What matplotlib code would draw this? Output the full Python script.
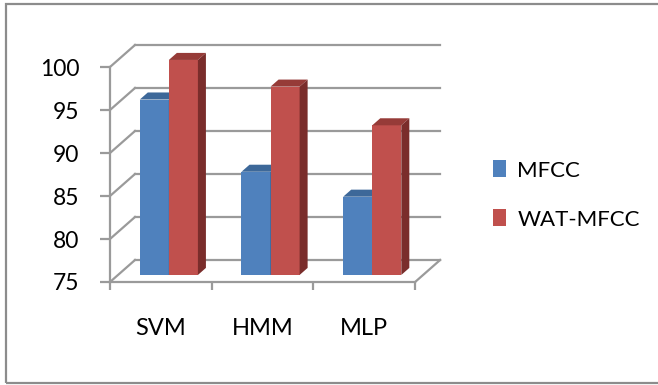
import numpy as np
import matplotlib.pyplot as plt
from matplotlib.patches import Polygon, Rectangle

plt.rcParams['font.family'] = ['Lato', 'DejaVu Sans']

categories = ['SVM', 'HMM', 'MLP']
series_names = ['MFCC', 'WAT-MFCC']
mfcc = [95.4, 87.0, 84.1]
wat_mfcc = [100.0, 96.9, 92.4]
y_ticks = [75, 80, 85, 90, 95, 100]

front_colors = ['#4F81BD', '#C0504D']
top_colors = ['#3D6899', '#963B38']
side_colors = ['#2F5482', '#7A2D2B']
grid_color = '#9A9A9A'

# oblique depth offset (x in category units, y in value units)
DX, DY = 0.246, 2.56
F0, F1 = 0.32, 0.64      # bar depth span as fraction of the floor depth
W = 2 / 7                 # bar width with 150% gap
BASE = 75

fig = plt.figure(figsize=(6.58, 3.85), dpi=100)
ax = fig.add_axes([110 / 658, 103 / 385, 3.3 * 101.7 / 658, 28 * 8.6 / 385])
ax.set_xlim(0, 3.3)
ax.set_ylim(BASE, BASE + 28)

# outer chart frame (right side runs off the image)
fig.patches.append(Rectangle((6 / 658, 2 / 385), 1.1, 379 / 385, transform=fig.transFigure,
                             fill=False, ec='#8C8C8C', lw=1.6))

# back wall gridlines and side-wall diagonals
for v in y_ticks:
    ax.plot([DX, 3 + DX], [v + DY, v + DY], color=grid_color, lw=1.6, zorder=1, clip_on=False)
    ax.plot([0, DX], [v, v + DY], color=grid_color, lw=1.6, zorder=1, clip_on=False)
ax.plot([3, 3 + DX], [BASE, BASE + DY], color=grid_color, lw=1.6, zorder=1, clip_on=False)

x = np.arange(len(categories))
dd = (F1 - F0)
for j, vals in enumerate([mfcc, wat_mfcc]):
    lefts = x + 0.5 - W + j * W + F0 * DX
    bottom = BASE + F0 * DY
    heights = np.array(vals) - BASE
    bars = ax.bar(lefts, heights, width=W, bottom=bottom, align='edge',
                  color=front_colors[j], zorder=3 + j, label=series_names[j])
    for x0, v in zip(lefts, vals):
        top = v + F0 * DY
        ax.add_patch(Polygon([(x0, top), (x0 + W, top), (x0 + W + dd * DX, top + dd * DY),
                              (x0 + dd * DX, top + dd * DY)], closed=True,
                             fc=top_colors[j], ec='none', zorder=3 + j, clip_on=False))
        ax.add_patch(Polygon([(x0 + W, bottom), (x0 + W + dd * DX, bottom + dd * DY),
                              (x0 + W + dd * DX, top + dd * DY), (x0 + W, top)], closed=True,
                             fc=side_colors[j], ec='none', zorder=3 + j, clip_on=False))

for s in ['top', 'right']:
    ax.spines[s].set_visible(False)
for s in ['left', 'bottom']:
    ax.spines[s].set_color(grid_color)
    ax.spines[s].set_linewidth(1.6)
ax.spines['left'].set_bounds(BASE, 100)
ax.spines['bottom'].set_bounds(0, 3)

ax.set_yticks(y_ticks)
ax.set_yticklabels([str(t) for t in y_ticks])
ax.tick_params(axis='y', length=7, width=1.6, color=grid_color, pad=15, labelsize=16.5)

ax.set_xticks([0, 1, 2, 3])
ax.set_xticklabels([])
ax.set_xticks(x + 0.5, minor=True)
ax.set_xticklabels(categories, minor=True)
ax.tick_params(axis='x', which='major', length=6, width=1.6, color=grid_color)
ax.tick_params(axis='x', which='minor', length=0, pad=26, labelsize=17)

fig.legend(loc='center left', bbox_to_anchor=(493 / 658, 1 - 195 / 385), frameon=False,
           fontsize=16, handlelength=0.6, handleheight=0.8, handletextpad=0.5,
           labelspacing=1.3, borderpad=0, borderaxespad=0)

fig.savefig('out.png', dpi=100)
